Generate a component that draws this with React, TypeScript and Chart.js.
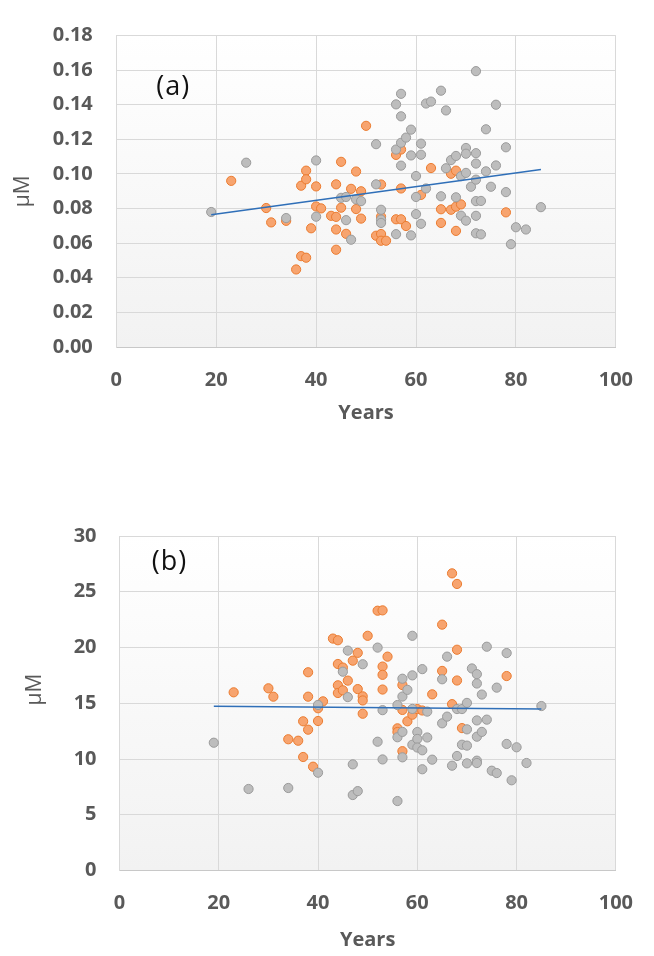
import React, { useEffect, useRef } from "react";
import { Chart, registerables } from "chart.js";

Chart.register(...registerables);

// ---------- Data ----------
const xTickStep = 20;

// Panel (a): age (years) vs concentration (µM)
const aGray: [number, number][] = [
  [19, 0.078], [26, 0.1065], [34, 0.0745], [40, 0.1078], [40, 0.0753],
  [45, 0.0862], [46, 0.0867], [46, 0.0733], [47, 0.062], [48, 0.0853],
  [49, 0.0843], [52, 0.1172], [52, 0.094], [53, 0.0793], [53, 0.0736],
  [53, 0.0717], [56, 0.1402], [56, 0.1141], [56, 0.0652], [57, 0.1463],
  [57, 0.1333], [57, 0.118], [57, 0.1048], [58, 0.121], [59, 0.1256],
  [59, 0.1107], [59, 0.0645], [60, 0.0988], [60, 0.0867], [60, 0.0768],
  [61, 0.1175], [61, 0.1111], [61, 0.0712], [62, 0.1407], [62, 0.0916],
  [63, 0.1418], [65, 0.1481], [65, 0.0871], [66, 0.1367], [66, 0.1033],
  [67, 0.108], [68, 0.1104], [68, 0.0865], [69, 0.0987], [69, 0.0759],
  [70, 0.115], [70, 0.1117], [70, 0.1006], [70, 0.073], [71, 0.0926],
  [72, 0.1594], [72, 0.112], [72, 0.106], [72, 0.0967], [72, 0.0843],
  [72, 0.0758], [72, 0.0657], [73, 0.0844], [73, 0.0651], [74, 0.1258],
  [74, 0.1015], [75, 0.0926], [76, 0.14], [76, 0.1049], [78, 0.1154],
  [78, 0.0895], [79, 0.0594], [80, 0.0692], [82, 0.0679], [85, 0.0808],
];

const aOrange: [number, number][] = [
  [23, 0.096], [30, 0.0803], [31, 0.072], [34, 0.0729], [36, 0.0448],
  [37, 0.0932], [37, 0.0525], [38, 0.1019], [38, 0.0969], [38, 0.0516],
  [39, 0.0686], [40, 0.0928], [40, 0.0812], [41, 0.0801], [43, 0.0758],
  [44, 0.094], [44, 0.0752], [44, 0.0679], [44, 0.0562], [45, 0.107],
  [45, 0.0805], [46, 0.0654], [47, 0.0914], [48, 0.1014], [48, 0.0797],
  [49, 0.09], [49, 0.0742], [50, 0.1278], [52, 0.0643], [53, 0.0939],
  [53, 0.0753], [53, 0.0653], [53, 0.0614], [54, 0.0614], [56, 0.111],
  [56, 0.0738], [57, 0.1141], [57, 0.0916], [57, 0.0738], [58, 0.0699],
  [61, 0.0879], [63, 0.1034], [65, 0.0796], [65, 0.0717], [67, 0.1001],
  [67, 0.0793], [68, 0.1019], [68, 0.0811], [68, 0.0671], [69, 0.0824],
  [78, 0.0778],
];

const aTrend: [number, number][] = [[19, 0.0764], [85, 0.1026]];

// Panel (b)
const bGray: [number, number][] = [
  [19, 11.46], [26, 7.31], [34, 7.4], [40, 14.85], [40, 8.77],
  [45, 17.83], [46, 19.72], [46, 15.55], [47, 9.52], [47, 6.77],
  [48, 7.12], [49, 18.5], [52, 19.99], [52, 11.55], [53, 14.38],
  [53, 9.96], [56, 14.84], [56, 11.95], [56, 6.23], [57, 17.2],
  [57, 15.6], [57, 12.43], [57, 10.15], [58, 16.2], [59, 21.05],
  [59, 17.5], [59, 14.49], [59, 11.28], [60, 12.42], [60, 11.8],
  [60, 11.03], [61, 18.06], [61, 10.78], [61, 9.08], [62, 14.25],
  [62, 11.93], [63, 9.94], [65, 17.15], [65, 13.2], [66, 19.18],
  [66, 13.8], [67, 9.4], [68, 14.48], [68, 10.27], [69, 14.48],
  [69, 11.28], [70, 15.03], [70, 12.66], [70, 11.2], [70, 9.61],
  [71, 18.12], [72, 17.61], [72, 16.77], [72, 13.46], [72, 12.0],
  [72, 9.85], [72, 9.64], [73, 15.78], [73, 12.43], [74, 20.07],
  [74, 13.53], [75, 8.95], [76, 16.4], [76, 8.74], [78, 19.5],
  [78, 11.35], [79, 8.09], [80, 11.05], [82, 9.64], [85, 14.75],
];

const bOrange: [number, number][] = [
  [23, 15.98], [30, 16.34], [31, 15.59], [34, 11.77], [36, 11.64],
  [37, 13.38], [37, 10.18], [38, 17.78], [38, 15.59], [38, 12.63],
  [39, 9.31], [40, 14.55], [40, 13.41], [41, 15.17], [43, 20.8],
  [44, 20.65], [44, 18.52], [44, 16.61], [44, 15.92], [45, 18.2],
  [45, 16.16], [46, 17.03], [47, 18.82], [48, 19.52], [48, 16.27],
  [49, 15.62], [49, 15.25], [49, 14.06], [50, 21.05], [52, 23.3],
  [53, 23.33], [53, 18.29], [53, 17.55], [53, 16.23], [54, 19.18],
  [56, 12.75], [56, 12.42], [57, 16.63], [57, 14.4], [57, 10.7],
  [58, 13.38], [59, 13.97], [60, 14.48], [61, 14.35], [63, 15.8],
  [65, 22.05], [65, 17.9], [67, 26.65], [67, 14.92], [68, 25.7],
  [68, 19.8], [68, 17.04], [69, 12.77], [78, 17.44],
];

const bTrend: [number, number][] = [[19, 14.73], [85, 14.48]];

// ---------- Styling ----------
const FONT = '"Open Sans", "Liberation Sans", sans-serif';
const TEXT = "#595959";
const GRID = "#d9d9d9";

const toPts = (arr: [number, number][]) => arr.map(([x, y]) => ({ x, y }));

const plotBg = {
  id: "plotBg",
  beforeDraw(chart: any) {
    const { ctx, chartArea } = chart;
    const { left, top, right, bottom } = chartArea;
    const g = ctx.createLinearGradient(0, top, 0, bottom);
    g.addColorStop(0, "#ffffff");
    g.addColorStop(1, "#f2f2f2");
    ctx.save();
    ctx.fillStyle = g;
    ctx.fillRect(left, top, right - left, bottom - top);
    ctx.restore();
  },
};

const panelLabel = {
  id: "panelLabel",
  afterDraw(chart: any, _args: any, opts: any) {
    const { ctx, chartArea } = chart;
    ctx.save();
    ctx.font = `27px ${FONT}`;
    ctx.fillStyle = "#111111";
    ctx.textAlign = "center";
    ctx.textBaseline = "middle";
    try { (ctx as any).letterSpacing = "1px"; } catch (e) {}
    ctx.fillText(opts.text, chartArea.left + opts.dx, chartArea.top + opts.dy);
    ctx.restore();
  },
};

interface PanelOpts {
  gray: [number, number][];
  orange: [number, number][];
  trend: [number, number][];
  yMax: number;
  yStep: number;
  yDecimals: number;
  label: string;
  labelDx: number;
  labelDy: number;
  padTop: number;
  padRight: number;
  yWidth: number;
  xHeight: number;
  yTickPad: number;
  yTitlePad: number;
  yTitleText: string;
  xTitlePad: number;
}

function makeChart(canvas: HTMLCanvasElement, p: PanelOpts) {
  const tickFont = { family: FONT, size: 20, weight: "bold" as const };
  return new Chart(canvas, {
    type: "scatter",
    data: {
      datasets: [
        {
          label: "trend",
          data: toPts(p.trend),
          showLine: true,
          borderColor: "#2f6fb8",
          borderWidth: 1.5,
          pointRadius: 0,
          fill: false,
          order: 1,
        },
        {
          label: "gray",
          data: toPts(p.gray),
          backgroundColor: "#bdbdbd",
          borderColor: "#9b9b9b",
          borderWidth: 1,
          pointRadius: 4.6,
          order: 2,
        },
        {
          label: "orange",
          data: toPts(p.orange),
          backgroundColor: "#f7a46f",
          borderColor: "#ec7c30",
          borderWidth: 1,
          pointRadius: 4.6,
          order: 3,
        },
      ],
    },
    options: {
      responsive: false,
      animation: false,
      events: [],
      layout: { padding: { top: p.padTop, right: p.padRight, left: 0, bottom: 0 } },
      plugins: {
        legend: { display: false },
        tooltip: { enabled: false },
        // @ts-ignore
        panelLabel: { text: p.label, dx: p.labelDx, dy: p.labelDy },
      },
      scales: {
        x: {
          type: "linear",
          min: 0,
          max: 100,
          ticks: { stepSize: xTickStep, color: TEXT, font: tickFont, padding: 21, maxRotation: 0 },
          grid: { color: GRID, lineWidth: 1, drawTicks: false },
          border: { color: "#c8c8c8" },
          title: {
            display: true,
            text: "Years",
            color: TEXT,
            font: { family: FONT, size: 20, weight: "bold" },
            padding: { top: 0, bottom: p.xTitlePad },
          },
          afterFit: (s: any) => { s.height = p.xHeight; },
        },
        y: {
          type: "linear",
          min: 0,
          max: p.yMax,
          ticks: {
            stepSize: p.yStep,
            color: TEXT,
            font: tickFont,
            padding: p.yTickPad,
            callback: (v: any) => Number(v).toFixed(p.yDecimals),
          },
          grid: { color: GRID, lineWidth: 1, drawTicks: false },
          border: { color: GRID },
          title: {
            display: true,
            text: p.yTitleText,
            color: TEXT,
            font: { family: FONT, size: 21 },
            padding: { top: p.yTitlePad, bottom: 0 },
          },
          afterFit: (s: any) => { s.width = p.yWidth; },
        },
      },
    },
    plugins: [plotBg, panelLabel],
  } as any);
}

export default function App() {
  const refA = useRef<HTMLCanvasElement>(null);
  const refB = useRef<HTMLCanvasElement>(null);

  useEffect(() => {
    if (!refA.current || !refB.current) return;
    const a = makeChart(refA.current, {
      gray: aGray, orange: aOrange, trend: aTrend,
      yMax: 0.18, yStep: 0.02, yDecimals: 2,
      label: "(a)", labelDx: 57, labelDy: 52,
      padTop: 22.7, padRight: 32.7, yWidth: 116.3, xHeight: 93,
      yTickPad: 23.5, yTitlePad: 10, yTitleText: "μM", xTitlePad: 15,
    });
    const b = makeChart(refB.current, {
      gray: bGray, orange: bOrange, trend: bTrend,
      yMax: 30, yStep: 5, yDecimals: 0,
      label: "(b)", labelDx: 50, labelDy: 26,
      padTop: 58, padRight: 29.5, yWidth: 119.5, xHeight: 85.5,
      yTickPad: 23, yTitlePad: 22, yTitleText: "     μM", xTitlePad: 4,
    });
    return () => { a.destroy(); b.destroy(); };
  }, []);

  return (
    <div style={{ position: "absolute", left: 0, top: 0, width: 654, height: 956, background: "#ffffff" }}>
      <canvas ref={refA} width={654} height={440} style={{ position: "absolute", left: 0, top: 0, display: "block" }} />
      <canvas ref={refB} width={654} height={478} style={{ position: "absolute", left: 0, top: 478, display: "block" }} />
    </div>
  );
}
